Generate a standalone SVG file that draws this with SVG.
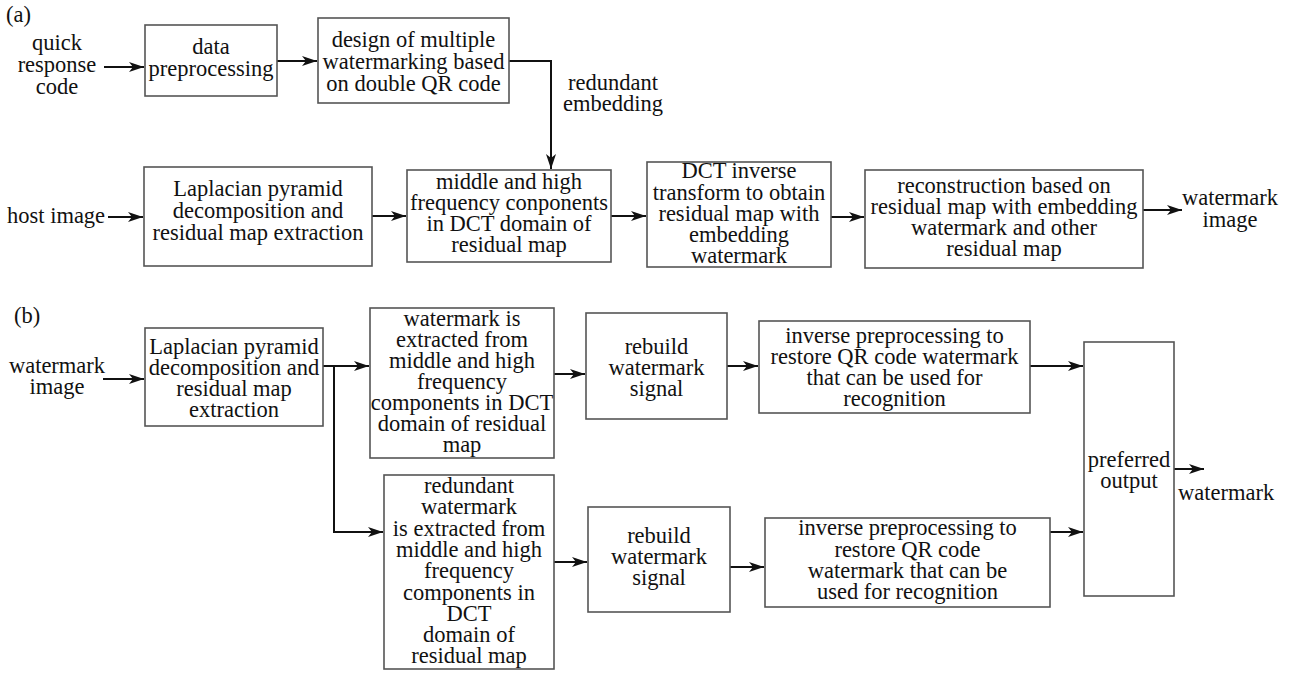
<svg xmlns="http://www.w3.org/2000/svg" width="1294" height="673" viewBox="0 0 1294 673">
<style>
text{font-family:'Liberation Serif','DejaVu Serif',serif;font-size:22.5px;fill:#111;}
.c{text-anchor:middle;}
.box{fill:#fff;stroke:#555;stroke-width:1.6;}
.ln{fill:none;stroke:#111;stroke-width:2;}
</style>
<defs>
<marker id="ah" markerUnits="userSpaceOnUse" markerWidth="16" markerHeight="12" refX="15" refY="5" orient="auto">
<path d="M0,0 L15,5 L0,10 L4,5 z" fill="#111"/>
</marker>
</defs>
<rect width="1294" height="673" fill="#fff"/>
<g font-family="Liberation Serif, DejaVu Serif, serif">

<g id="labels">
<text x="6" y="22">(a)</text>
<text x="14" y="323">(b)</text>
</g>

<g id="connectors">
<path class="ln" d="M104,67 H144" marker-end="url(#ah)"/>
<path class="ln" d="M277,61 H317" marker-end="url(#ah)"/>
<path class="ln" d="M509,61 H551 V169" marker-end="url(#ah)"/>
<path class="ln" d="M108,217 H143" marker-end="url(#ah)"/>
<path class="ln" d="M372,216 H406" marker-end="url(#ah)"/>
<path class="ln" d="M611,216 H646" marker-end="url(#ah)"/>
<path class="ln" d="M831,217 H864" marker-end="url(#ah)"/>
<path class="ln" d="M1143,210 H1182" marker-end="url(#ah)"/>
<path class="ln" d="M103,379 H144" marker-end="url(#ah)"/>
<path class="ln" d="M323,366 H369" marker-end="url(#ah)"/>
<path class="ln" d="M334,366 V532 H383" marker-end="url(#ah)"/>
<path class="ln" d="M554,374 H585" marker-end="url(#ah)"/>
<path class="ln" d="M727,366 H758" marker-end="url(#ah)"/>
<path class="ln" d="M1030,366 H1083" marker-end="url(#ah)"/>
<path class="ln" d="M1174,469 H1204" marker-end="url(#ah)"/>
<path class="ln" d="M554,562 H587" marker-end="url(#ah)"/>
<path class="ln" d="M730,567 H764" marker-end="url(#ah)"/>
<path class="ln" d="M1050,532 H1083" marker-end="url(#ah)"/>
</g>

<g id="qr-input">
<text class="c" x="57" y="50">quick</text>
<text class="c" x="57" y="72">response</text>
<text class="c" x="57" y="94">code</text>
</g>

<g id="data-preprocessing">
<rect class="box" x="145" y="25" width="132" height="71"/>
<text class="c" x="211" y="54">data</text>
<text class="c" x="211" y="76">preprocessing</text>
</g>

<g id="design-multiple-watermarking">
<rect class="box" x="318" y="18" width="191" height="85"/>
<text class="c" x="413.5" y="47">design of multiple</text>
<text class="c" x="413.5" y="69">watermarking based</text>
<text class="c" x="413.5" y="91">on double QR code</text>
</g>

<g id="redundant-embedding-label">
<text class="c" x="613" y="90">redundant</text>
<text class="c" x="613" y="111">embedding</text>
</g>

<g id="host-image">
<text x="7" y="223">host image</text>
</g>

<g id="laplacian-a">
<rect class="box" x="144" y="167" width="228" height="99"/>
<text class="c" x="258" y="196">Laplacian pyramid</text>
<text class="c" x="258" y="218">decomposition and</text>
<text class="c" x="258" y="240">residual map extraction</text>
</g>

<g id="middle-high-a">
<rect class="box" x="407" y="170" width="204" height="92"/>
<text class="c" x="509" y="189">middle and high</text>
<text class="c" x="509" y="210">frequency conponents</text>
<text class="c" x="509" y="231">in DCT domain of</text>
<text class="c" x="509" y="252">residual map</text>
</g>

<g id="dct-inverse">
<rect class="box" x="647" y="162" width="184" height="105"/>
<text class="c" x="739" y="178">DCT inverse</text>
<text class="c" x="739" y="200">transform to obtain</text>
<text class="c" x="739" y="221">residual map with</text>
<text class="c" x="739" y="242">embedding</text>
<text class="c" x="739" y="263">watermark</text>
</g>

<g id="reconstruction">
<rect class="box" x="865" y="170" width="278" height="98"/>
<text class="c" x="1004" y="193">reconstruction based on</text>
<text class="c" x="1004" y="214">residual map with embedding</text>
<text class="c" x="1004" y="235">watermark and other</text>
<text class="c" x="1004" y="256">residual map</text>
</g>

<g id="watermark-image-out">
<text class="c" x="1230" y="205">watermark</text>
<text class="c" x="1230" y="227">image</text>
</g>

<g id="watermark-image-in">
<text class="c" x="57" y="373">watermark</text>
<text class="c" x="57" y="394">image</text>
</g>

<g id="laplacian-b">
<rect class="box" x="145" y="328" width="178" height="98"/>
<text class="c" x="234" y="354">Laplacian pyramid</text>
<text class="c" x="234" y="375">decomposition and</text>
<text class="c" x="234" y="396">residual map</text>
<text class="c" x="234" y="417">extraction</text>
</g>

<g id="extract-watermark">
<rect class="box" x="370" y="308" width="184" height="150"/>
<text class="c" x="462" y="326">watermark is</text>
<text class="c" x="462" y="347">extracted from</text>
<text class="c" x="462" y="368">middle and high</text>
<text class="c" x="462" y="389">frequency</text>
<text class="c" x="462" y="410">components in DCT</text>
<text class="c" x="462" y="431">domain of residual</text>
<text class="c" x="462" y="452">map</text>
</g>

<g id="rebuild-1">
<rect class="box" x="586" y="313" width="141" height="106"/>
<text class="c" x="656.5" y="354">rebuild</text>
<text class="c" x="656.5" y="375">watermark</text>
<text class="c" x="656.5" y="396">signal</text>
</g>

<g id="inverse-1">
<rect class="box" x="759" y="321" width="271" height="92"/>
<text class="c" x="894.5" y="343">inverse preprocessing to</text>
<text class="c" x="894.5" y="364">restore QR code watermark</text>
<text class="c" x="894.5" y="385">that can be used for</text>
<text class="c" x="894.5" y="406">recognition</text>
</g>

<g id="preferred-output">
<rect class="box" x="1084" y="342" width="90" height="254"/>
<text class="c" x="1129" y="467">preferred</text>
<text class="c" x="1129" y="488">output</text>
</g>

<g id="watermark-out">
<text x="1178" y="500">watermark</text>
</g>

<g id="extract-redundant">
<rect class="box" x="384" y="475" width="170" height="194"/>
<text class="c" x="469" y="493">redundant</text>
<text class="c" x="469" y="514">watermark</text>
<text class="c" x="469" y="536">is extracted from</text>
<text class="c" x="469" y="557">middle and high</text>
<text class="c" x="469" y="578">frequency</text>
<text class="c" x="469" y="600">components in</text>
<text class="c" x="469" y="621">DCT</text>
<text class="c" x="469" y="642">domain of</text>
<text class="c" x="469" y="663">residual map</text>
</g>

<g id="rebuild-2">
<rect class="box" x="588" y="507" width="142" height="105"/>
<text class="c" x="659" y="543">rebuild</text>
<text class="c" x="659" y="564">watermark</text>
<text class="c" x="659" y="585">signal</text>
</g>

<g id="inverse-2">
<rect class="box" x="765" y="518" width="285" height="89"/>
<text class="c" x="907.5" y="535">inverse preprocessing to</text>
<text class="c" x="907.5" y="557">restore QR code</text>
<text class="c" x="907.5" y="578">watermark that can be</text>
<text class="c" x="907.5" y="599">used for recognition</text>
</g>
</g>
</svg>
